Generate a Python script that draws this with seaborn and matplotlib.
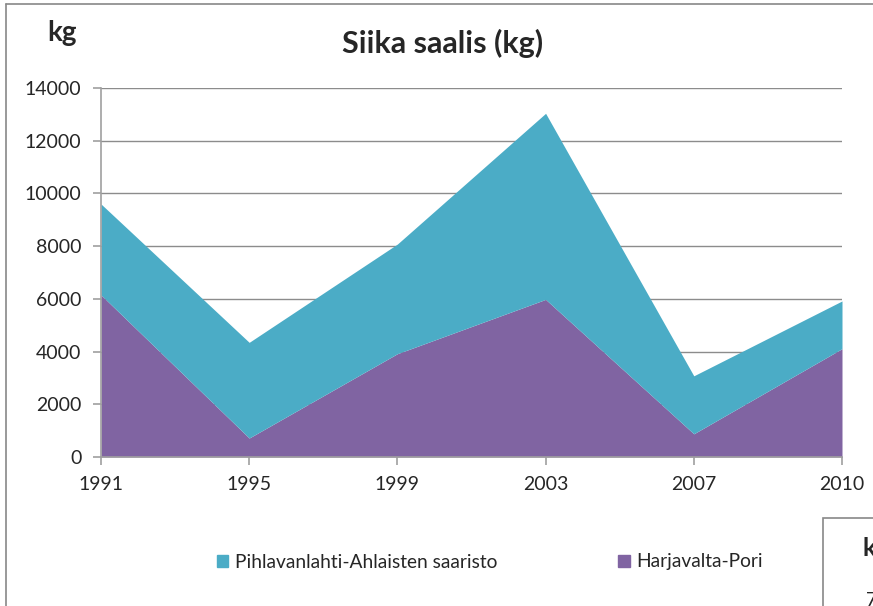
import numpy as np
import matplotlib.pyplot as plt
import seaborn as sns
from matplotlib.patches import Patch, Rectangle

years = ['1991', '1995', '1999', '2003', '2007', '2010']
harjavalta = [6150, 720, 3920, 5980, 880, 4110]
total = [9600, 4350, 8080, 13040, 3080, 5920]
pihlavanlahti = [t - h for t, h in zip(total, harjavalta)]
yticks = [0, 2000, 4000, 6000, 8000, 10000, 12000, 14000]

teal = '#4BACC6'
purple = '#8064A2'
grey = '#A0A0A0'

sns.set_style('white')
plt.rcParams['font.family'] = ['Lato', 'DejaVu Sans']

fig = plt.figure(figsize=(8.73, 6.06), dpi=100)
ax = fig.add_axes([101 / 873, 1 - 457 / 606, 741 / 873, 369 / 606])

x = np.arange(len(years))
ax.stackplot(x, harjavalta, pihlavanlahti, colors=[purple, teal], linewidth=0)

ax.set_xlim(0, len(years) - 1)
ax.set_ylim(0, 14000)
ax.set_xticks(x)
ax.set_xticklabels(years)
ax.set_yticks(yticks)
ax.set_yticklabels([str(v) for v in yticks])
ax.yaxis.grid(True, color='#8C8C8C', linewidth=1)
ax.set_axisbelow(True)
for s in ['top', 'right']:
    ax.spines[s].set_visible(False)
for s in ['left', 'bottom']:
    ax.spines[s].set_color(grey)
    ax.spines[s].set_linewidth(1.2)
ax.tick_params(axis='both', direction='out', length=6, color=grey, width=1.2,
               labelsize=14, pad=8, left=True, bottom=True)

# outer chart frame
fig.add_artist(plt.Line2D([6 / 873, 6 / 873], [0, 1 - 4 / 606], color='#888888', lw=1.2))
fig.add_artist(plt.Line2D([6 / 873, 1], [1 - 4 / 606, 1 - 4 / 606], color='#888888', lw=1.2))

fig.text(62 / 873, 1 - 33 / 606, 'kg', ha='center', va='center', fontsize=20, fontweight='bold')
fig.text(443 / 873, 1 - 43 / 606, 'Siika saalis (kg)', ha='center', va='center',
         fontsize=22, fontweight='bold')

handles = [Patch(color=teal, label='Pihlavanlahti-Ahlaisten saaristo'),
           Patch(color=purple, label='Harjavalta-Pori')]
fig.legend(handles=handles, loc='center', bbox_to_anchor=(490 / 873, 1 - 562 / 606), ncol=2,
           frameon=False, fontsize=13.8, handlelength=0.6, handleheight=0.6,
           handletextpad=0.35, columnspacing=6.3, borderpad=0)

# neighbouring chart box, cut at the edge
fig.add_artist(Rectangle((823 / 873, -0.05), 0.2, 1 - 518 / 606 + 0.05, fill=False,
                         edgecolor='#888888', lw=1.2))
fig.text(862 / 873, 1 - 548 / 606, 'k', ha='left', va='center', fontsize=18, fontweight='bold')
fig.text(866 / 873, 1 - 600 / 606, '7', ha='left', va='center', fontsize=14)

fig.savefig('out.png', dpi=100)
